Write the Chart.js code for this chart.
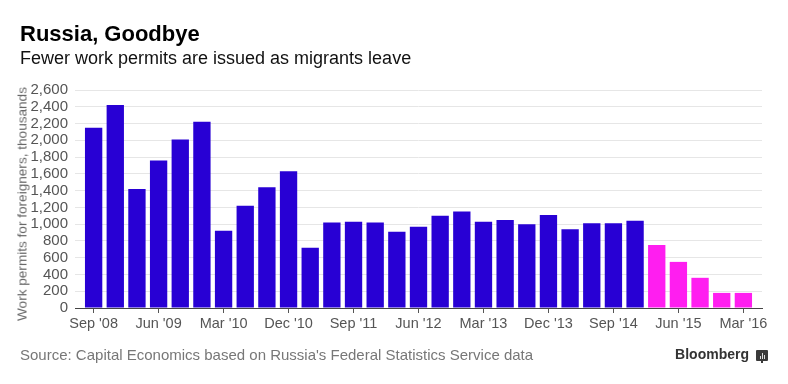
<!DOCTYPE html>
<html>
<head>
<meta charset="utf-8">
<script src="https://cdn.jsdelivr.net/npm/chart.js@4/dist/chart.umd.min.js"></script>
<style>
  body { margin: 0; background: #fff; font-family: "Liberation Sans", Arial, sans-serif; }
  #wrap { position: relative; width: 788px; height: 384px; overflow: hidden; }
  #chart { position: absolute; left: 0; top: 0; }
  .txt { position: absolute; white-space: nowrap; }
  #title { left: 20px; top: 21px; font-size: 22px; font-weight: bold; color: #000; }
  #subtitle { left: 20px; top: 48px; font-size: 18px; color: #111; }
  #ytitle { left: 22px; top: 204px; font-size: 13.6px; color: #666; transform: translate(-50%, -50%) rotate(-90deg); }
  #source { left: 20px; top: 346px; font-size: 15px; color: #777; }
  #brand { right: 39px; top: 346px; font-size: 14px; font-weight: bold; color: #333; }
  #logo { position: absolute; left: 756px; top: 350px; width: 12px; height: 11px; background: #3a3a3a; border-radius: 1px; }
  #logo i { position: absolute; bottom: 2px; width: 1px; background: #ddd; }
  #logo b { position: absolute; left: 5px; top: 11px; width: 2px; height: 2px; background: #3a3a3a; }
</style>
</head>
<body>
<div id="wrap">
  <canvas id="chart" width="788" height="384"></canvas>
  <div class="txt" id="title">Russia, Goodbye</div>
  <div class="txt" id="subtitle">Fewer work permits are issued as migrants leave</div>
  <div class="txt" id="ytitle">Work permits for foreigners, thousands</div>
  <div class="txt" id="source">Source: Capital Economics based on Russia's Federal Statistics Service data</div>
  <div class="txt" id="brand">Bloomberg</div>
  <div id="logo"><i style="left:4px;height:3px"></i><i style="left:6px;height:6px"></i><i style="left:8px;height:4px"></i><b></b></div>
</div>
<script>
/*----------------------------------------------------------------*/
const quarters = ["Sep '08", "Dec '08", "Mar '09", "Jun '09", "Sep '09", "Dec '09", "Mar '10", "Jun '10",
    "Sep '10", "Dec '10", "Mar '11", "Jun '11", "Sep '11", "Dec '11", "Mar '12", "Jun '12",
    "Sep '12", "Dec '12", "Mar '13", "Jun '13", "Sep '13", "Dec '13", "Mar '14", "Jun '14",
    "Sep '14", "Dec '14", "Mar '15", "Jun '15", "Sep '15", "Dec '15", "Mar '16"];
const permits = [2150, 2420, 1420, 1760, 2010, 2220, 920, 1220, 1440, 1630, 720, 1020, 1030, 1020, 910, 970,
    1100, 1150, 1030, 1050, 1000, 1110, 940, 1010, 1010, 1040, 750, 550, 360, 180, 180];
const firstRecent = 26; // from Mar '15 the bars turn magenta
const yTicks = [0, 200, 400, 600, 800, 1000, 1200, 1400, 1600, 1800, 2000, 2200, 2400, 2600];

const blue = "rgba(40, 0, 212, 1)";
const magenta = "rgba(255, 30, 240, 1)";

new Chart(document.getElementById("chart"), {
    type: "bar",
    data: {
        datasets: [
            {
                data: permits.map((v, i) => ({ x: i, y: v })),
                backgroundColor: permits.map((v, i) => i >= firstRecent ? magenta : blue),
                borderWidth: 0,
                barPercentage: 0.8,
                categoryPercentage: 1
            }
        ]
    },
    options: {
        responsive: false,
        animation: false,
        layout: {
            padding: { left: 10, right: 26, top: 90, bottom: 46 }
        },
        plugins: {
            legend: { display: false },
            tooltip: { enabled: false }
        },
        scales: {
            x: {
                type: "linear",
                offset: false,
                min: -0.86,
                max: quarters.length - 1 + 0.86,
                afterFit(scale) { scale.height = 30; },
                ticks: {
                    stepSize: 3,
                    includeBounds: false,
                    autoSkip: false,
                    maxRotation: 0,
                    padding: 2,
                    color: "#555",
                    font: { family: "Liberation Sans", size: 14.5 },
                    callback: (v) => quarters[v]
                },
                grid: {
                    offset: false,
                    drawOnChartArea: false,
                    tickLength: 5,
                    color: "#555"
                },
                border: { color: "#444", width: 1 }
            },
            y: {
                min: 0,
                max: 2600,
                afterFit(scale) { scale.width = 65; },
                afterBuildTicks(scale) { scale.ticks = yTicks.map(v => ({ value: v })); },
                ticks: {
                    autoSkip: false,
                    padding: 7,
                    color: "#555",
                    font: { family: "Liberation Sans", size: 15 },
                    callback: (v) => v.toLocaleString("en-US")
                },
                grid: {
                    drawTicks: false,
                    color: "#e6e6e6"
                },
                border: { display: false }
            }
        }
    }
});
/*----------------------------------------------------------------*/
</script>
</body>
</html>
